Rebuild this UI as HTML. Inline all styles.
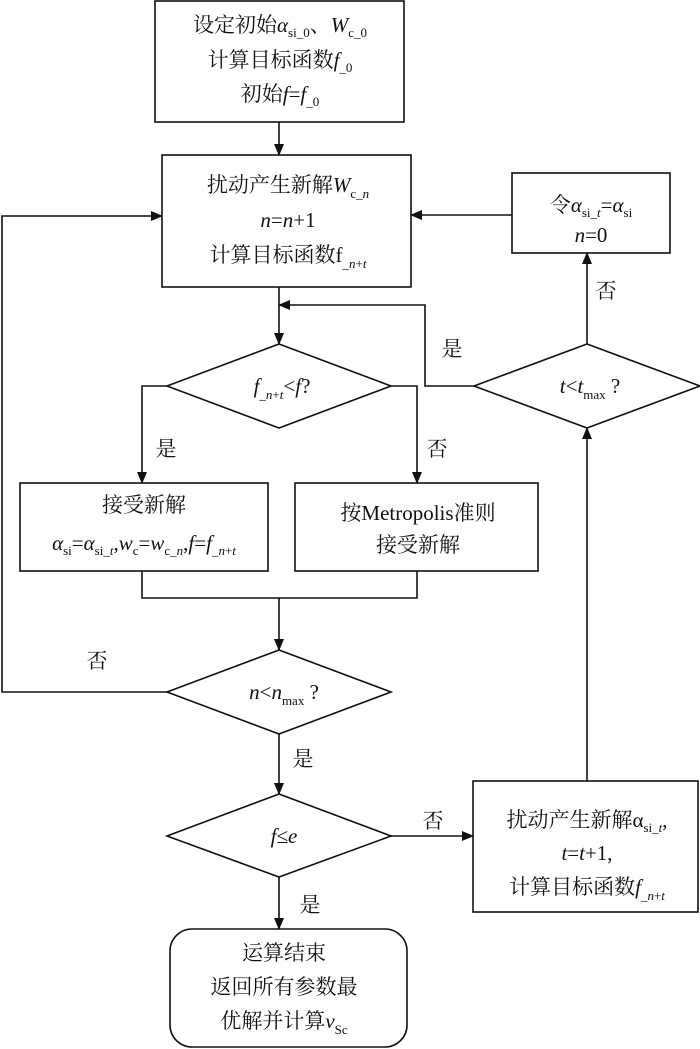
<!DOCTYPE html>
<html><head><meta charset="utf-8"><style>
html,body{margin:0;padding:0;background:#fff;}
svg{display:block;}
text{font-family:"Liberation Serif","Noto Serif CJK SC",serif;font-size:21px;fill:#111;}
.i{font-style:italic;}
.s{font-size:13px;}
</style></head><body>
<svg width="700" height="1049" viewBox="0 0 700 1049" xmlns="http://www.w3.org/2000/svg">
<defs><marker id="a" markerWidth="12" markerHeight="10" refX="11" refY="5" orient="auto" markerUnits="userSpaceOnUse"><path d="M0,0 L12,5 L0,10 Z" fill="#111"/></marker></defs>
<g stroke="#111" stroke-width="1.6" fill="none">
<rect x="155" y="1" width="249" height="121"/>
<rect x="162" y="155" width="249" height="132"/>
<rect x="512" y="173" width="158" height="80"/>
<polygon points="167,386 279,344 391,386 279,428"/>
<polygon points="474,386 587,344 700,386 587,428"/>
<rect x="20" y="483" width="248" height="88"/>
<rect x="295" y="483" width="243" height="88"/>
<polygon points="167,692 279,650 391,692 279,734"/>
<polygon points="167,836 279,794 391,836 279,877"/>
<rect x="473" y="781" width="225" height="131"/>
<rect x="170" y="929" width="237" height="118" rx="22"/>
<line x1="279" y1="122" x2="279" y2="155" marker-end="url(#a)"/>
<line x1="279" y1="287" x2="279" y2="344" marker-end="url(#a)"/>
<line x1="512" y1="215" x2="411" y2="215" marker-end="url(#a)"/>
<polyline points="167,692 2,692 2,216 162,216" marker-end="url(#a)"/>
<polyline points="474,386 425,386 425,305 279,305" marker-end="url(#a)"/>
<line x1="587" y1="344" x2="587" y2="253" marker-end="url(#a)"/>
<polyline points="167,386 142,386 142,483" marker-end="url(#a)"/>
<polyline points="391,386 417,386 417,483" marker-end="url(#a)"/>
<polyline points="142,571 142,598 417,598 417,571"/>
<line x1="279" y1="598" x2="279" y2="650" marker-end="url(#a)"/>
<line x1="279" y1="734" x2="279" y2="794" marker-end="url(#a)"/>
<line x1="391" y1="836" x2="473" y2="836" marker-end="url(#a)"/>
<line x1="279" y1="877" x2="279" y2="929" marker-end="url(#a)"/>
<line x1="587" y1="781" x2="587" y2="428" marker-end="url(#a)"/>
</g>
<g text-anchor="middle">
<text x="280" y="32">设定初始<tspan class="i">α</tspan><tspan class="s" dy="5">si_0</tspan><tspan dy="-5">、</tspan><tspan class="i">W</tspan><tspan class="s" dy="5">c_0</tspan></text>
<text x="280" y="67">计算目标函数<tspan class="i">f</tspan><tspan class="s" dy="5">_0</tspan></text>
<text x="280" y="101">初始<tspan class="i">f</tspan>=<tspan class="i">f</tspan><tspan class="s" dy="5">_0</tspan></text>
<text x="288" y="192">扰动产生新解<tspan class="i">W</tspan><tspan class="s" dy="6">c_<tspan class="i">n</tspan></tspan></text>
<text x="288" y="227"><tspan class="i">n</tspan>=<tspan class="i">n</tspan>+1</text>
<text x="288" y="262">计算目标函数f<tspan class="s" dy="6">_<tspan class="i">n</tspan>+<tspan class="i">t</tspan></tspan></text>
<text x="591" y="212">令<tspan class="i">α</tspan><tspan class="s" dy="5">si_<tspan class="i">t</tspan></tspan><tspan dy="-5">=</tspan><tspan class="i">α</tspan><tspan class="s" dy="5">si</tspan></text>
<text x="591" y="242"><tspan class="i">n</tspan>=0</text>
<text x="282" y="393"><tspan class="i">f</tspan><tspan class="s" dy="6">_<tspan class="i">n</tspan>+<tspan class="i">t</tspan></tspan><tspan dy="-6">&lt;</tspan><tspan class="i">f</tspan>?</text>
<text x="590" y="393"><tspan class="i">t</tspan>&lt;<tspan class="i">t</tspan><tspan class="s" dy="6">max</tspan><tspan dy="-6"> ?</tspan></text>
<text x="144" y="512">接受新解</text>
<text x="144" y="550"><tspan class="i">α</tspan><tspan class="s" dy="5">si</tspan><tspan dy="-5">=</tspan><tspan class="i">α</tspan><tspan class="s" dy="5">si_<tspan class="i">t</tspan></tspan><tspan dy="-5">,</tspan><tspan class="i">w</tspan><tspan class="s" dy="5">c</tspan><tspan dy="-5">=</tspan><tspan class="i">w</tspan><tspan class="s" dy="5">c_<tspan class="i">n</tspan></tspan><tspan dy="-5">,</tspan><tspan class="i">f</tspan>=<tspan class="i">f</tspan><tspan class="s" dy="5">_<tspan class="i">n</tspan>+<tspan class="i">t</tspan></tspan></text>
<text x="418" y="520">按Metropolis准则</text>
<text x="418" y="552">接受新解</text>
<text x="284" y="699"><tspan class="i">n</tspan>&lt;<tspan class="i">n</tspan><tspan class="s" dy="6">max</tspan><tspan dy="-6"> ?</tspan></text>
<text x="284" y="843"><tspan class="i">f</tspan>≤<tspan class="i">e</tspan></text>
<text x="587" y="827">扰动产生新解α<tspan class="s" dy="5">si_<tspan class="i">t</tspan></tspan><tspan dy="-5">,</tspan></text>
<text x="587" y="860"><tspan class="i">t</tspan>=<tspan class="i">t</tspan>+1,</text>
<text x="587" y="894">计算目标函数<tspan class="i">f</tspan><tspan class="s" dy="6">_<tspan class="i">n</tspan>+<tspan class="i">t</tspan></tspan></text>
<text x="284" y="960">运算结束</text>
<text x="284" y="994">返回所有参数最</text>
<text x="284" y="1028">优解并计算<tspan class="i">v</tspan><tspan class="s" dy="6">Sc</tspan></text>
<text x="452" y="356">是</text>
<text x="606" y="298">否</text>
<text x="166" y="456">是</text>
<text x="437" y="456">否</text>
<text x="97" y="668">否</text>
<text x="303" y="766">是</text>
<text x="433" y="828">否</text>
<text x="310" y="912">是</text>
</g>
</svg>
</body></html>
